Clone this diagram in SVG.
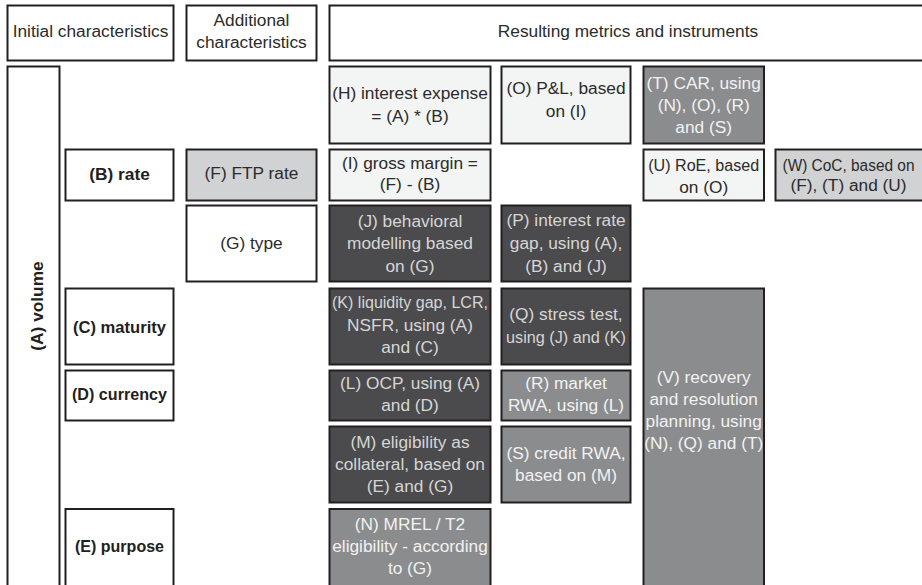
<svg xmlns="http://www.w3.org/2000/svg" width="922" height="585" viewBox="0 0 922 585">
<style>
rect{stroke:#231f20;stroke-width:2}
.w{fill:#ffffff}
.lt{fill:#f3f4f4}
.gy{fill:#d1d2d3}
.dk{fill:#4b4b4d}
.md{fill:#8b8c8e}
text{font-family:"Liberation Sans",Arial,sans-serif;font-size:17.3px;text-anchor:middle}
.t{fill:#2b2b2b}
.b{fill:#231f20;font-weight:bold}
.td{fill:#d6d6d6}
.tm{fill:#f2f2f2}
</style>
<rect width="922" height="585" fill="#ffffff" style="stroke:none"/>
<g id="header-initial"><rect class="w" x="7.5" y="5.5" width="166" height="55"/><text class="t" x="90.5" y="37">Initial characteristics</text></g>
<g id="header-additional"><rect class="w" x="186.5" y="5.5" width="130" height="55"/><text class="t" x="251.5" y="26">Additional</text><text class="t" x="251.5" y="48">characteristics</text></g>
<g id="header-resulting"><rect class="w" x="329.5" y="5.5" width="600" height="55"/><text class="t" x="628" y="37">Resulting metrics and instruments</text></g>
<g id="A"><rect class="w" x="7.5" y="66.5" width="52" height="540"/><text class="b" transform="translate(37,306) rotate(-90)" x="0" y="6">(A) volume</text></g>
<g id="B"><rect class="w" x="65.5" y="149.5" width="108" height="51"/><text class="b" x="119.5" y="180">(B) rate</text></g>
<g id="C"><rect class="w" x="65.5" y="288.5" width="108" height="76"/><text class="b" x="119.5" y="333" textLength="93" lengthAdjust="spacingAndGlyphs">(C) maturity</text></g>
<g id="D"><rect class="w" x="65.5" y="370.5" width="108" height="50"/><text class="b" x="119.5" y="400" textLength="95" lengthAdjust="spacingAndGlyphs">(D) currency</text></g>
<g id="E"><rect class="w" x="65.5" y="509" width="108" height="100"/><text class="b" x="119.5" y="552" textLength="89" lengthAdjust="spacingAndGlyphs">(E) purpose</text></g>
<g id="F"><rect class="gy" x="186.5" y="149.5" width="130" height="51"/><text class="t" x="251.5" y="179">(F) FTP rate</text></g>
<g id="G"><rect class="w" x="186.5" y="205.5" width="130" height="76"/><text class="t" x="251.5" y="249">(G) type</text></g>
<g id="H"><rect class="lt" x="329.5" y="66.5" width="161" height="77"/><text class="t" x="410" y="99">(H) interest expense</text><text class="t" x="410" y="122">= (A) * (B)</text></g>
<g id="I"><rect class="lt" x="329.5" y="149.5" width="161" height="51"/><text class="t" x="410" y="169">(I) gross margin =</text><text class="t" x="410" y="190">(F) - (B)</text></g>
<g id="J"><rect class="dk" x="329.5" y="205.5" width="161" height="76"/><text class="td" x="410" y="227">(J) behavioral</text><text class="td" x="410" y="249">modelling based</text><text class="td" x="410" y="272">on (G)</text></g>
<g id="K"><rect class="dk" x="329.5" y="288.5" width="161" height="76"/><text class="td" x="410" y="308" textLength="156" lengthAdjust="spacingAndGlyphs">(K) liquidity gap, LCR,</text><text class="td" x="410" y="331">NSFR, using (A)</text><text class="td" x="410" y="353">and (C)</text></g>
<g id="L"><rect class="dk" x="329.5" y="370.5" width="161" height="50"/><text class="td" x="410" y="389">(L) OCP, using (A)</text><text class="td" x="410" y="411">and (D)</text></g>
<g id="M"><rect class="dk" x="329.5" y="426.5" width="161" height="76"/><text class="td" x="410" y="448">(M) eligibility as</text><text class="td" x="410" y="470">collateral, based on</text><text class="td" x="410" y="492">(E) and (G)</text></g>
<g id="N"><rect class="md" x="329.5" y="509" width="161" height="100"/><text class="tm" x="410" y="530">(N) MREL / T2</text><text class="tm" x="410" y="552">eligibility - according</text><text class="tm" x="410" y="574">to (G)</text></g>
<g id="O"><rect class="lt" x="501.5" y="66.5" width="129" height="77"/><text class="t" x="566" y="94">(O) P&amp;L, based</text><text class="t" x="566" y="117">on (I)</text></g>
<g id="P"><rect class="dk" x="501.5" y="205.5" width="129" height="76"/><text class="td" x="566" y="226">(P) interest rate</text><text class="td" x="566" y="249">gap, using (A),</text><text class="td" x="566" y="272">(B) and (J)</text></g>
<g id="Q"><rect class="dk" x="501.5" y="288.5" width="129" height="76"/><text class="td" x="566" y="320">(Q) stress test,</text><text class="td" x="566" y="343" textLength="120" lengthAdjust="spacingAndGlyphs">using (J) and (K)</text></g>
<g id="R"><rect class="md" x="501.5" y="370.5" width="129" height="50"/><text class="tm" x="566" y="389">(R) market</text><text class="tm" x="566" y="411">RWA, using (L)</text></g>
<g id="S"><rect class="md" x="501.5" y="426.5" width="129" height="76"/><text class="tm" x="566" y="459">(S) credit RWA,</text><text class="tm" x="566" y="481">based on (M)</text></g>
<g id="T"><rect class="md" x="643.5" y="66.5" width="120.5" height="77"/><text class="tm" x="703.7" y="89">(T) CAR, using</text><text class="tm" x="703.7" y="111">(N), (O), (R)</text><text class="tm" x="703.7" y="133">and (S)</text></g>
<g id="U"><rect class="lt" x="643.5" y="149.5" width="120.5" height="51"/><text class="t" x="703.7" y="171" textLength="111" lengthAdjust="spacingAndGlyphs">(U) RoE, based</text><text class="t" x="703.7" y="193">on (O)</text></g>
<g id="V"><rect class="md" x="643.5" y="288.5" width="120.5" height="320"/><text class="tm" x="703.7" y="383">(V) recovery</text><text class="tm" x="703.7" y="405">and resolution</text><text class="tm" x="703.7" y="427">planning, using</text><text class="tm" x="703.7" y="449">(N), (Q) and (T)</text></g>
<g id="W"><rect class="gy" x="775.5" y="149.5" width="154" height="51"/><text class="t" x="848.5" y="171" textLength="132" lengthAdjust="spacingAndGlyphs">(W) CoC, based on</text><text class="t" x="848.5" y="191">(F), (T) and (U)</text></g>
<g id="connectors"></g>
</svg>
